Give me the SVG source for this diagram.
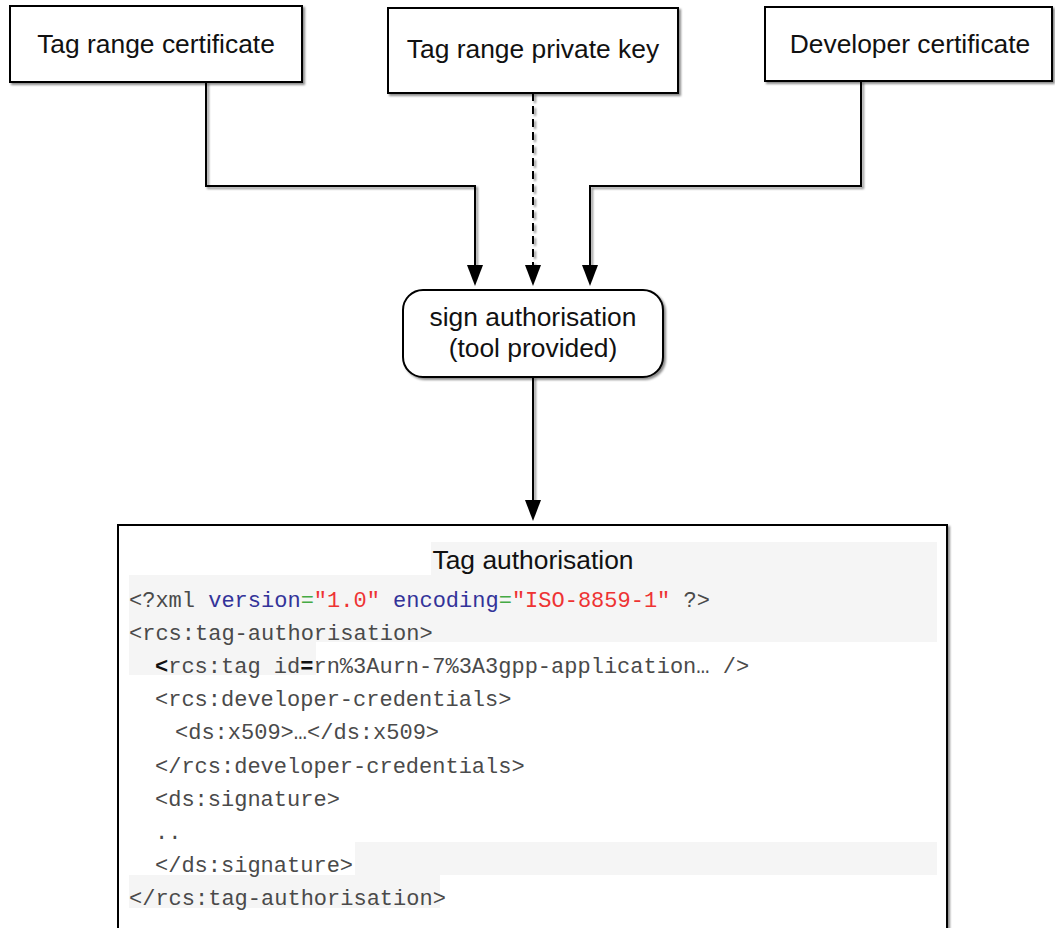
<svg xmlns="http://www.w3.org/2000/svg" width="1055" height="928" viewBox="0 0 1055 928">
<style>
.box{fill:#fff;stroke:#000;stroke-width:2}
.lbl{font-family:"Liberation Sans",Arial,sans-serif;font-size:26.4px;fill:#111;text-anchor:middle}
.code{font-family:"Liberation Mono","Courier New",monospace;font-size:22px;fill:#4a4a4a;white-space:pre}
.conn{fill:none;stroke:#000;stroke-width:2}
.bg{fill:#f5f5f5}
.kw{fill:#333399}
.eq{fill:#44aa44}
.str{fill:#ee3333}
.b{font-weight:bold;fill:#111}
</style>
<defs>
<filter id="sh" filterUnits="userSpaceOnUse" x="0" y="0" width="1055" height="928">
<feDropShadow dx="2" dy="2" stdDeviation="1.2" flood-color="#000" flood-opacity="0.45"/>
</filter>
</defs>
<rect width="1055" height="928" fill="#fff"/>
<g id="connectors">
<path class="conn" d="M206,82 V186 H475 V265" filter="url(#sh)"/>
<path d="M467,265 H483 L475,286 Z" fill="#000"/>
<path class="conn" d="M533,93 V265" stroke-dasharray="8,5" filter="url(#sh)"/>
<path d="M525,265 H541 L533,286 Z" fill="#000"/>
<path class="conn" d="M861,81 V186 H590 V265" filter="url(#sh)"/>
<path d="M582,265 H598 L590,286 Z" fill="#000"/>
<path class="conn" d="M533,377 V500" filter="url(#sh)"/>
<path d="M525,500 H541 L533,521 Z" fill="#000"/>
</g>
<g id="node-tag-range-cert">
<rect class="box" x="10" y="6" width="292" height="76" filter="url(#sh)"/>
<text class="lbl" x="156" y="53">Tag range certificate</text>
</g>
<g id="node-tag-range-key">
<rect class="box" x="388" y="8" width="290" height="85" filter="url(#sh)"/>
<text class="lbl" x="533" y="58">Tag range private key</text>
</g>
<g id="node-dev-cert">
<rect class="box" x="765" y="7" width="287" height="74" filter="url(#sh)"/>
<text class="lbl" x="910" y="53">Developer certificate</text>
</g>
<g id="node-sign">
<rect class="box" x="403" y="290" width="260" height="87" rx="20" ry="20" filter="url(#sh)"/>
<text class="lbl" x="533" y="326">sign authorisation</text>
<text class="lbl" x="533" y="357">(tool provided)</text>
</g>
<g id="node-tag-authorisation">
<rect class="box" x="118" y="525" width="829" height="420" filter="url(#sh)"/>
<rect class="bg" x="431" y="542" width="506" height="33"/>
<rect class="bg" x="129" y="575" width="808" height="67"/>
<rect class="bg" x="129" y="642" width="187" height="33"/>
<rect class="bg" x="355" y="842" width="582" height="33"/>
<rect class="bg" x="129" y="875" width="311" height="33"/>
<text class="lbl" x="533" y="569">Tag authorisation</text>
<text class="code" x="129" y="607">&lt;?xml <tspan class="kw">version</tspan><tspan class="eq">=</tspan><tspan class="str">"1.0"</tspan> <tspan class="kw">encoding</tspan><tspan class="eq">=</tspan><tspan class="str">"ISO-8859-1"</tspan> ?&gt;</text>
<text class="code" x="129" y="640">&lt;rcs:tag-authorisation&gt;</text>
<text class="code" x="155" y="673"><tspan class="b">&lt;</tspan>rcs:tag id<tspan class="b">=</tspan>rn%3Aurn-7%3A3gpp-application… /&gt;</text>
<text class="code" x="155" y="706">&lt;rcs:developer-credentials&gt;</text>
<text class="code" x="175" y="739">&lt;ds:x509&gt;…&lt;/ds:x509&gt;</text>
<text class="code" x="155" y="773">&lt;/rcs:developer-credentials&gt;</text>
<text class="code" x="155" y="806">&lt;ds:signature&gt;</text>
<text class="code" x="155" y="839">..</text>
<text class="code" x="155" y="872">&lt;/ds:signature&gt;</text>
<text class="code" x="129" y="905">&lt;/rcs:tag-authorisation&gt;</text>
</g>
</svg>
